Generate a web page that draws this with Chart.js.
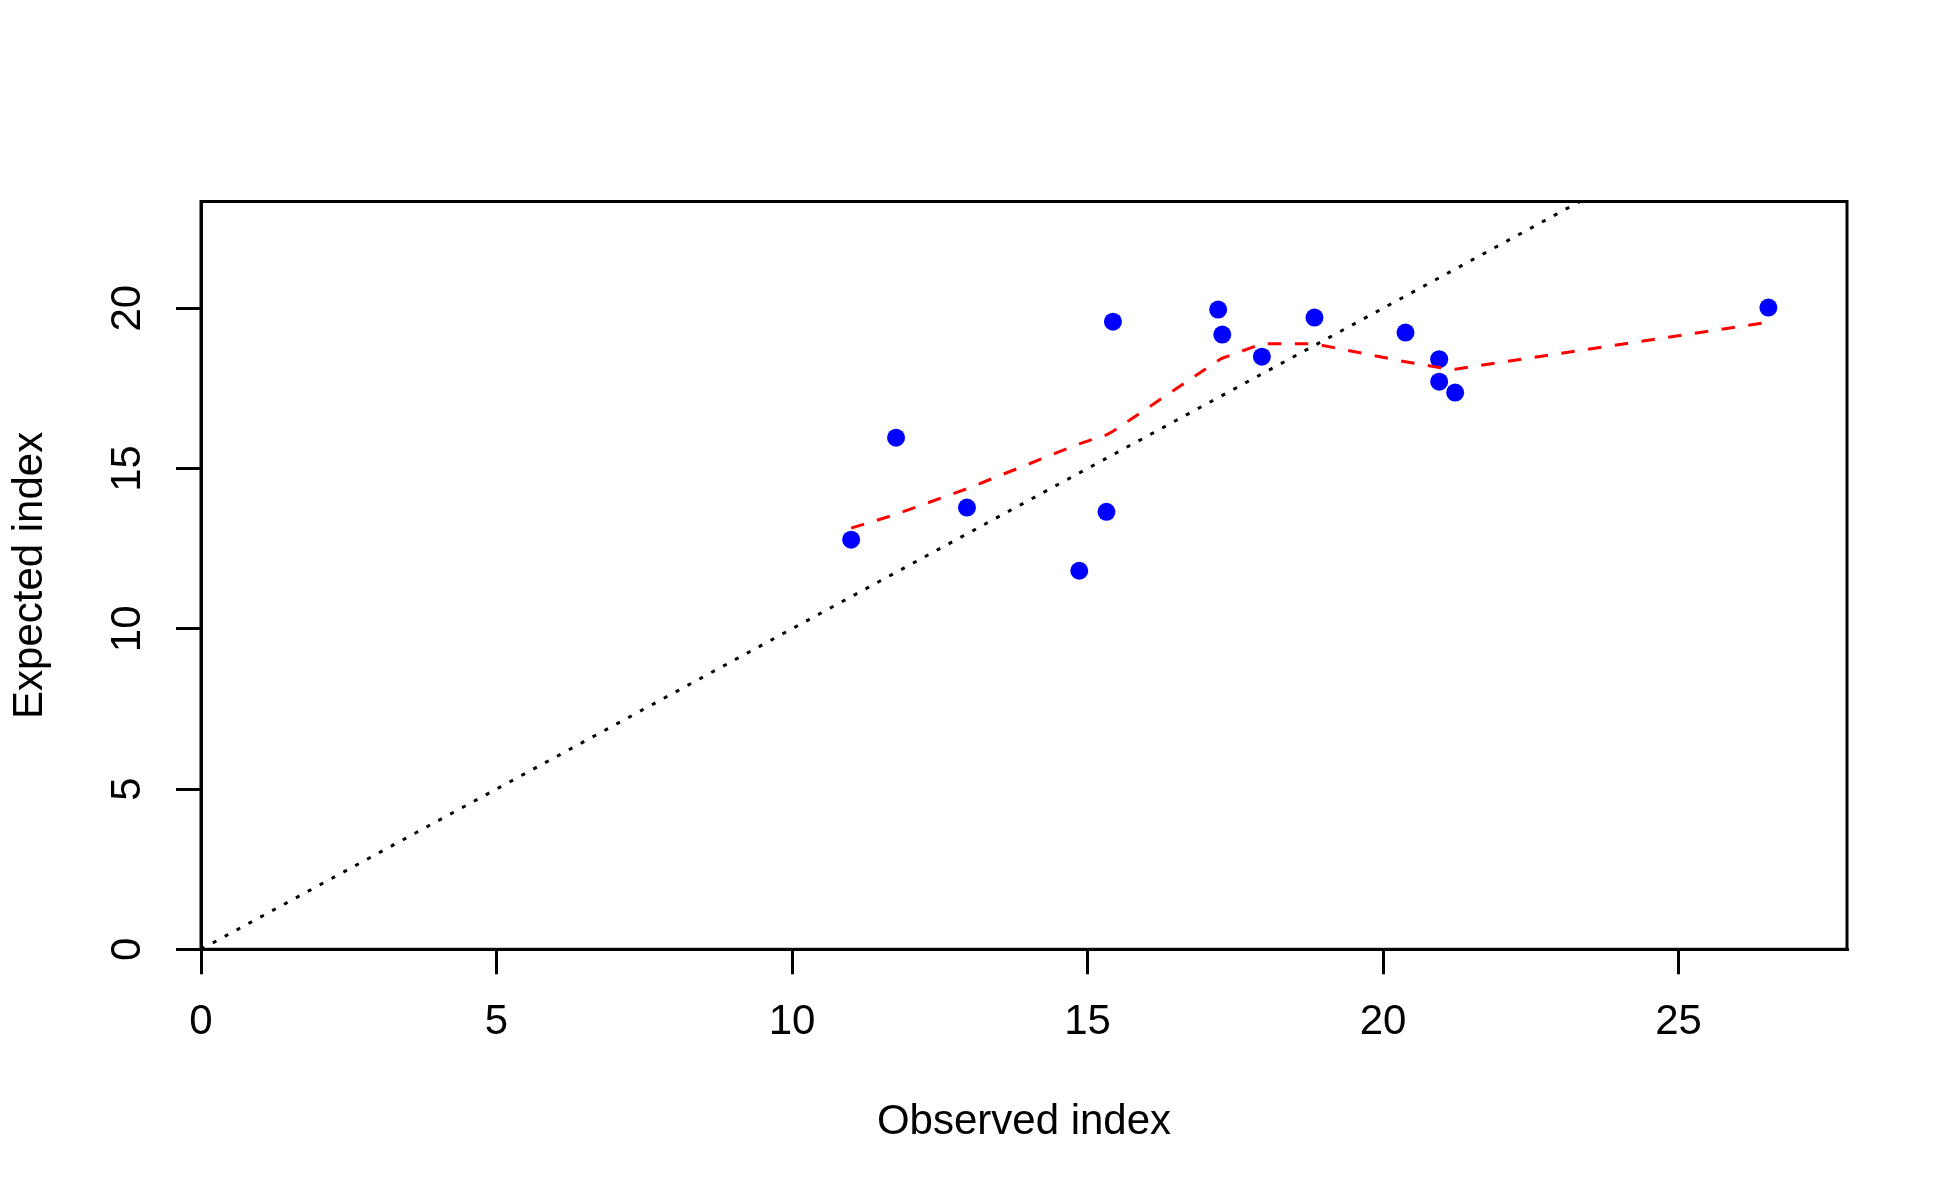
<!DOCTYPE html>
<html>
<head>
<meta charset="utf-8">
<script src="https://cdn.jsdelivr.net/npm/chart.js@4"></script>
<style>
  html, body { margin: 0; padding: 0; background: #fff; }
  canvas { display: block; }
</style>
</head>
<body>
<canvas id="indexChart" width="1950" height="1200"></canvas>
<script>
// observed vs expected index, one point per unit
const observedIndex = [11.00, 11.76, 12.96, 14.86, 15.32, 15.43, 17.21, 17.28, 17.95, 18.84, 20.38, 20.95, 20.95, 21.22, 26.52];
const expectedIndex = [12.78, 15.96, 13.78, 11.81, 13.65, 19.58, 19.96, 19.18, 18.49, 19.71, 19.24, 18.41, 17.71, 17.37, 20.02];
// lowess smooth, evaluated at the sorted observed values
const smoothIndex = [13.14, 13.57, 14.37, 15.77, 16.05, 16.16, 18.37, 18.44, 18.89, 18.89, 18.33, 18.15, 18.15, 18.10, 19.56];
// 1:1 reference line end values
const identityLine = [0, 30];

const xTicks = [0, 5, 10, 15, 20, 25];
const yTicks = [0, 5, 10, 15, 20];
const xMax = 27.85;
const yMax = 23.33;

const fontFamily = '"Liberation Sans", Arial, sans-serif';
const fontSize = 42;
Chart.defaults.font.family = fontFamily;
Chart.defaults.font.size = fontSize;
Chart.defaults.color = '#000';

// box round the plot and y labels read bottom-to-top, as in R
const frame = {
    id: 'frame',
    afterDraw(chart) {
        const { ctx, chartArea: a, scales: { y } } = chart;
        ctx.save();
        ctx.strokeStyle = '#000';
        ctx.lineWidth = 3;
        ctx.strokeRect(a.left, a.top, a.right - a.left, a.bottom - a.top);
        ctx.font = fontSize + 'px ' + fontFamily;
        ctx.fillStyle = '#000';
        ctx.textAlign = 'center';
        ctx.textBaseline = 'middle';
        y.ticks.forEach(t => {
            ctx.save();
            ctx.translate(128, y.getPixelForValue(t.value));
            ctx.rotate(-Math.PI / 2);
            ctx.fillText(String(t.value), 0, 0);
            ctx.restore();
        });
        ctx.restore();
    }
};

const ctx = document.getElementById('indexChart').getContext('2d');

new Chart(ctx, {
    type: 'scatter',
    data: {
        datasets: [
            {
                label: 'Units',
                data: observedIndex.map((v, i) => ({ x: v, y: expectedIndex[i] })),
                backgroundColor: '#0000FF',
                borderWidth: 0,
                pointRadius: 9,
                order: 3
            },
            {
                label: 'Identity',
                data: identityLine.map(v => ({ x: v, y: v })),
                showLine: true,
                borderColor: '#000',
                borderWidth: 3,
                borderDash: [4, 9.5],
                pointRadius: 0,
                order: 2
            },
            {
                label: 'Lowess',
                data: observedIndex.map((v, i) => ({ x: v, y: smoothIndex[i] })),
                showLine: true,
                borderColor: '#FF0000',
                borderWidth: 3,
                borderDash: [13.5, 13.5],
                pointRadius: 0,
                order: 1
            }
        ]
    },
    options: {
        responsive: false,
        devicePixelRatio: 1,
        animation: false,
        layout: { padding: { top: 201.5, right: 103, bottom: 0, left: 0 } },
        plugins: {
            legend: { display: false },
            tooltip: { enabled: false }
        },
        scales: {
            x: {
                type: 'linear',
                bounds: 'data',
                min: 0,
                max: xMax,
                afterBuildTicks: s => { s.ticks = xTicks.map(v => ({ value: v })); },
                afterFit: s => { s.height = 250.7; },
                grid: {
                    drawOnChartArea: false,
                    color: '#000',
                    lineWidth: 3,
                    tickLength: 25,
                    tickWidth: 3,
                    tickColor: '#000'
                },
                border: { display: true, color: '#000', width: 3 },
                ticks: { padding: 23, maxRotation: 0, autoSkip: false, color: '#000' },
                title: {
                    display: true,
                    text: 'Observed index',
                    color: '#000',
                    padding: { top: 0, bottom: 52.6 }
                }
            },
            y: {
                type: 'linear',
                bounds: 'data',
                min: 0,
                max: yMax,
                afterBuildTicks: s => { s.ticks = yTicks.map(v => ({ value: v })); },
                afterFit: s => { s.width = 201; },
                grid: {
                    drawOnChartArea: false,
                    color: '#000',
                    lineWidth: 3,
                    tickLength: 25,
                    tickWidth: 3,
                    tickColor: '#000'
                },
                border: { display: true, color: '#000', width: 3 },
                ticks: { display: false },
                title: {
                    display: true,
                    text: 'Expected index',
                    color: '#000',
                    padding: { top: 5.3, bottom: 0 }
                }
            }
        }
    },
    plugins: [frame]
});
</script>
</body>
</html>
